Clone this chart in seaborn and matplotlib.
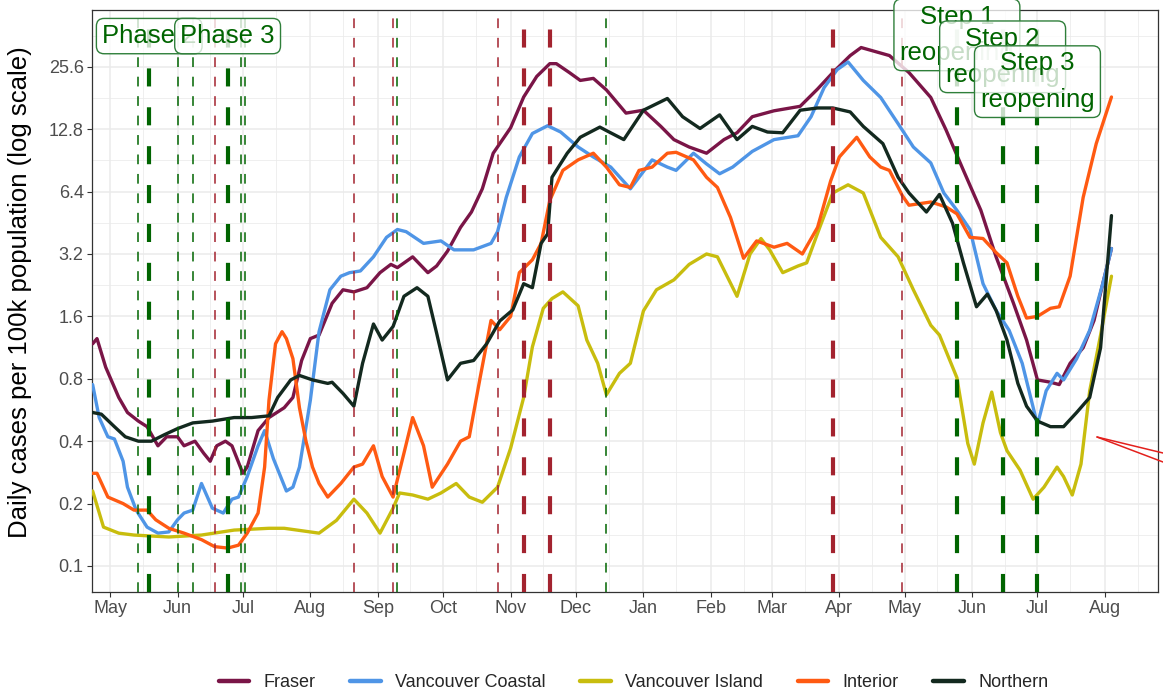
import pandas as pd
import matplotlib
matplotlib.use("Agg")
import matplotlib.pyplot as plt
import matplotlib.dates as mdates
from matplotlib.lines import Line2D
from matplotlib.ticker import FixedLocator, NullFormatter, FixedFormatter
import seaborn as sns

# ---------------------------------------------------------------------------
# 7-day average daily cases per 100k population, by health authority.
# Day numbers count from 1 May 2020.
# ---------------------------------------------------------------------------
BASE = pd.Timestamp("2020-05-01")

fraser_day = [-8, -6, -2, 4, 8, 13, 17, 22, 26, 31, 34, 39, 43, 46, 49, 53, 56, 61, 63, 68,
              73, 80, 84, 88, 92, 96, 102, 107, 112, 118, 124, 129, 132, 139, 146, 150, 155,
              161, 166, 171, 176, 184, 190, 196, 202, 205, 211, 216, 222, 228, 237, 245, 253,
              259, 266, 274, 282, 288, 295, 305, 317, 325, 332, 340, 345, 358, 367, 377, 384,
              392, 400, 407, 415, 421, 426, 432, 436, 441, 447, 452, 456, 460]
fraser_val = [1.18, 1.25, 0.91, 0.65, 0.55, 0.50, 0.47, 0.38, 0.42, 0.42, 0.38, 0.40, 0.35,
              0.32, 0.38, 0.40, 0.38, 0.28, 0.30, 0.45, 0.52, 0.58, 0.65, 0.98, 1.25, 1.30,
              1.85, 2.15, 2.1, 2.2, 2.6, 2.85, 2.75, 3.1, 2.6, 2.8, 3.3, 4.3, 5.1, 6.6, 9.8,
              13, 18.3, 23, 26.5, 26.5, 24, 22, 22.5, 19.8, 15.3, 15.8, 13.2, 11.4, 10.5, 9.8,
              11.4, 12.3, 14.7, 15.7, 16.5, 20, 24, 29, 31.7, 29, 24, 18.2, 12.7, 8.1, 5.2,
              3.1, 1.85, 1.23, 0.79, 0.77, 0.75, 0.95, 1.13, 1.53, 2.3, 3.4]

coastal_day = [-8, -5, -1, 2, 6, 8, 12, 17, 22, 27, 31, 34, 38, 42, 47, 52, 56, 59, 63, 68,
               71, 75, 81, 84, 87, 92, 96, 101, 106, 110, 115, 121, 127, 132, 136, 144, 152,
               158, 167, 175, 178, 182, 188, 194, 201, 207, 215, 222, 230, 239, 243, 249, 256,
               260, 268, 274, 280, 286, 295, 305, 316, 322, 328, 334, 339, 346, 354, 362, 369,
               377, 383, 389, 395, 401, 407, 413, 419, 426, 430, 435, 438, 444, 450, 456, 460]
coastal_val = [0.75, 0.52, 0.42, 0.41, 0.32, 0.24, 0.186, 0.154, 0.144, 0.146, 0.167, 0.18,
               0.186, 0.25, 0.19, 0.18, 0.21, 0.215, 0.27, 0.38, 0.45, 0.33, 0.23, 0.24, 0.30,
               0.63, 1.35, 2.15, 2.5, 2.6, 2.65, 3.1, 3.85, 4.2, 4.1, 3.6, 3.7, 3.35, 3.35, 3.6,
               4.1, 6.0, 9.4, 12.2, 13.3, 12.4, 10.5, 9.4, 8.4, 6.6, 7.5, 9.1, 8.4, 8.1, 9.8,
               8.7, 7.8, 8.4, 10, 11.4, 11.9, 14.7, 20.3, 24.8, 27, 22, 18.2, 13.6, 10.5, 8.8,
               6.3, 5.2, 4.2, 2.3, 1.71, 1.37, 0.95, 0.48, 0.70, 0.85, 0.79, 1.0, 1.37, 2.3, 3.4]

island_day = [-8, -3, 4, 11, 27, 42, 57, 73, 80, 96, 104, 112, 118, 124, 130, 133, 139, 146,
              152, 159, 165, 171, 178, 184, 190, 194, 199, 203, 208, 215, 219, 224, 228, 234,
              239, 245, 251, 259, 266, 274, 279, 288, 294, 299, 303, 309, 316, 320, 326, 332,
              339, 346, 354, 362, 369, 377, 381, 389, 394, 397, 401, 405, 409, 412, 418, 424,
              429, 435, 438, 442, 446, 450, 455, 460]
island_val = [0.23, 0.154, 0.144, 0.141, 0.138, 0.141, 0.149, 0.152, 0.152, 0.144, 0.166,
              0.21, 0.18, 0.144, 0.19, 0.225, 0.22, 0.21, 0.225, 0.25, 0.215, 0.203, 0.24,
              0.37, 0.65, 1.14, 1.75, 1.95, 2.1, 1.8, 1.23, 0.95, 0.67, 0.85, 0.95, 1.7, 2.15,
              2.4, 2.85, 3.2, 3.1, 2.0, 3.2, 3.8, 3.35, 2.6, 2.8, 2.9, 4.3, 6.3, 6.9, 6.3,
              3.85, 3.1, 2.15, 1.45, 1.3, 0.81, 0.39, 0.31, 0.49, 0.69, 0.44, 0.36, 0.29,
              0.21, 0.24, 0.30, 0.27, 0.22, 0.31, 0.70, 1.3, 2.5]

interior_day = [-8, -6, -1, 6, 11, 17, 21, 27, 34, 42, 48, 54, 59, 63, 68, 71, 73, 76, 79,
                81, 84, 87, 90, 93, 96, 100, 106, 112, 116, 121, 125, 130, 135, 139, 144, 148,
                155, 161, 165, 170, 175, 179, 184, 188, 194, 198, 202, 208, 215, 222, 228, 234,
                239, 243, 249, 256, 260, 268, 274, 279, 285, 291, 297, 305, 311, 318, 325, 331,
                335, 343, 349, 354, 358, 364, 367, 377, 384, 389, 395, 401, 407, 412, 417, 421,
                426, 432, 436, 441, 447, 453, 460]
interior_val = [0.28, 0.28, 0.215, 0.20, 0.186, 0.186, 0.167, 0.152, 0.144, 0.134, 0.124,
                0.122, 0.126, 0.144, 0.18, 0.30, 0.63, 1.18, 1.35, 1.25, 1.0, 0.58, 0.40, 0.30,
                0.25, 0.215, 0.25, 0.30, 0.31, 0.38, 0.27, 0.215, 0.35, 0.52, 0.38, 0.24, 0.31,
                0.40, 0.42, 0.81, 1.53, 1.38, 1.6, 2.6, 3.0, 3.6, 5.8, 8.1, 9.1, 9.8, 8.4, 6.9,
                6.7, 8.1, 8.4, 9.8, 9.9, 9.1, 7.5, 6.7, 4.8, 3.05, 3.7, 3.45, 3.6, 3.2, 4.3,
                7.2, 9.4, 11.7, 9.4, 8.4, 8.1, 6.1, 5.5, 5.7, 5.4, 5.0, 3.85, 3.8, 3.25, 2.9,
                2.0, 1.57, 1.6, 1.75, 1.78, 2.5, 6.0, 10.9, 18.3]

northern_day = [-8, -4, 2, 7, 13, 19, 25, 31, 38, 47, 57, 65, 73, 77, 83, 87, 93, 100, 102,
                107, 112, 116, 121, 125, 130, 135, 141, 146, 150, 155, 161, 167, 173, 179, 185,
                190, 194, 198, 201, 203, 210, 216, 225, 228, 236, 245, 256, 263, 271, 280, 288,
                295, 302, 309, 317, 325, 332, 340, 346, 355, 362, 367, 375, 381, 387, 392, 398,
                403, 407, 412, 417, 421, 426, 432, 438, 444, 450, 455, 460]
northern_val = [0.55, 0.54, 0.47, 0.42, 0.40, 0.40, 0.43, 0.46, 0.49, 0.50, 0.52, 0.52, 0.53,
                0.65, 0.79, 0.83, 0.79, 0.76, 0.77, 0.68, 0.59, 0.95, 1.47, 1.23, 1.43, 2.0,
                2.2, 2.0, 1.33, 0.79, 0.95, 0.98, 1.18, 1.52, 1.72, 2.3, 2.2, 3.6, 4.0, 7.5,
                9.8, 11.7, 13.1, 12.6, 11.4, 15.8, 18, 14.7, 12.9, 15, 11.4, 13.2, 12.4, 12.3,
                15.8, 16.2, 16.2, 15.5, 13.2, 10.9, 7.5, 6.3, 5.1, 6.2, 4.5, 2.9, 1.78, 2.05,
                1.71, 1.23, 0.76, 0.59, 0.50, 0.47, 0.47, 0.55, 0.65, 1.13, 4.9]

regions = ["Fraser", "Vancouver Coastal", "Vancouver Island", "Interior", "Northern"]
region_colors = ["#7a1547", "#4f95e6", "#c8bd0e", "#ff5a12", "#13291f"]

y_breaks = [0.1, 0.2, 0.4, 0.8, 1.6, 3.2, 6.4, 12.8, 25.6]
y_labels = ["0.1", "0.2", "0.4", "0.8", "1.6", "3.2", "6.4", "12.8", "25.6"]

# Public-health events: green = reopening steps, red = new restrictions
green_thin = ["2020-05-14", "2020-06-01", "2020-06-08", "2020-06-30", "2020-07-02",
              "2020-09-10", "2020-12-15"]
green_thick = ["2020-05-19", "2020-06-24", "2021-05-25", "2021-06-15", "2021-07-01"]
red_thin = ["2020-06-18", "2020-08-21", "2020-09-08", "2020-10-26", "2021-04-30"]
red_thick = ["2020-11-07", "2020-11-19", "2021-03-29"]

step_text = ["Phase 2", "Phase 3", "Step 1\nreopening", "Step 2\nreopening", "Step 3\nreopening"]
step_date = ["2020-05-19", "2020-06-24", "2021-05-25", "2021-06-15", "2021-07-01"]
step_level = [36.0, 36.0, 36.5, 28.6, 21.7]

# ---------------------------------------------------------------------------
series = {
    "Fraser": (fraser_day, fraser_val),
    "Vancouver Coastal": (coastal_day, coastal_val),
    "Vancouver Island": (island_day, island_val),
    "Interior": (interior_day, interior_val),
    "Northern": (northern_day, northern_val),
}
frames = []
for name in regions:
    days, vals = series[name]
    frames.append(pd.DataFrame({
        "date": BASE + pd.to_timedelta(days, unit="D"),
        "cases": vals,
        "region": name,
    }))
df = pd.concat(frames, ignore_index=True)

sns.set_theme(style="white")
plt.rcParams["font.family"] = ["Liberation Sans", "DejaVu Sans"]
plt.rcParams["lines.scale_dashes"] = False

fig = plt.figure(figsize=(11.63, 6.92), dpi=100)
ax = fig.add_axes([92 / 1163, 1 - 592 / 692, 1066 / 1163, 582 / 692])

GREEN = "#006400"
RED = "#a3232f"

sns.lineplot(data=df, x="date", y="cases", hue="region", hue_order=regions,
             palette=dict(zip(regions, region_colors)), linewidth=2.4,
             estimator=None, sort=False, ax=ax, zorder=3)

ax.set_yscale("log", base=2)
ax.set_ylim(0.0749, 48.1)
ax.set_xlim(pd.Timestamp("2020-04-22 17:00"), pd.Timestamp("2021-08-25 09:00"))

# y axis: doubling breaks, minor grid halfway in log space
ax.yaxis.set_major_locator(FixedLocator(y_breaks))
ax.yaxis.set_major_formatter(FixedFormatter(y_labels))
minor_y = [b * 2 ** 0.5 for b in y_breaks]
ax.yaxis.set_minor_locator(FixedLocator(minor_y))
ax.yaxis.set_minor_formatter(NullFormatter())

ax.xaxis.set_major_locator(mdates.MonthLocator())
ax.xaxis.set_major_formatter(mdates.DateFormatter("%b"))
ax.xaxis.set_minor_locator(mdates.MonthLocator(bymonthday=16))

ax.grid(True, which="major", color="#ebebeb", linewidth=1.1, zorder=0)
ax.grid(True, which="minor", color="#ebebeb", linewidth=0.55, zorder=0)
ax.set_axisbelow(True)

for s in ax.spines.values():
    s.set_color("#333333")
    s.set_linewidth(0.9)

ax.tick_params(which="major", length=3.5, width=0.8, color="#333333",
               labelsize=13, labelcolor="#4d4d4d", pad=2.5,
               bottom=True, left=True)
ax.tick_params(which="minor", length=0)
ax.set_xlabel("")
ax.set_ylabel("")

# event markers
for d in green_thin:
    ax.axvline(pd.Timestamp(d), color=GREEN, lw=1.1, ls=(0, (7, 7)), zorder=4)
for d in green_thick:
    ax.axvline(pd.Timestamp(d), color=GREEN, lw=3.0, ls=(0, (13, 15)), zorder=4)
for d in red_thin:
    ax.axvline(pd.Timestamp(d), color=RED, lw=1.1, ls=(0, (7, 7)), zorder=4)
for d in red_thick:
    ax.axvline(pd.Timestamp(d), color=RED, lw=3.0, ls=(0, (13, 15)), zorder=4)

for txt, d, lvl in zip(step_text, step_date, step_level):
    ax.text(pd.Timestamp(d), lvl, txt, ha="center", va="center", fontsize=18.5,
            color=GREEN, linespacing=1.65, zorder=6, clip_on=False,
            bbox=dict(boxstyle="round,pad=0.22,rounding_size=0.3",
                      fc=(1, 1, 1, 0.78), ec="#2f7f3a", lw=1.0))

fig.text(20 / 1163, 1 - 292 / 692, "Daily cases per 100k population (log scale)",
         rotation=90, ha="center", va="center", fontsize=18.5, color="black")

sns.move_legend(ax, "center", bbox_to_anchor=(0.508, -0.156), ncol=5, title=None,
                frameon=False, fontsize=13, handlelength=1.7, columnspacing=1.9,
                handletextpad=0.8)
for h in ax.get_legend().get_lines():
    h.set_linewidth(3.2)

# pointer at the right edge
tip = (1097 / 1163, 1 - 437 / 692)
for end_y in (453, 462):
    fig.add_artist(Line2D([tip[0], 1.0], [tip[1], 1 - end_y / 692],
                          transform=fig.transFigure, color="#e3201c", lw=1.1))

fig.savefig("out.png", dpi=100, facecolor="white")
